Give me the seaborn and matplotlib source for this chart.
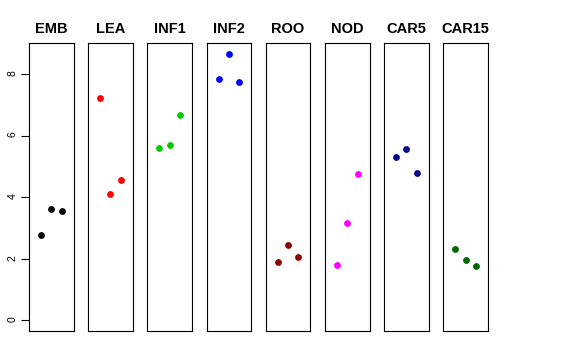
import numpy as np
import pandas as pd
import seaborn as sns
import matplotlib.pyplot as plt

tissues = ['EMB', 'LEA', 'INF1', 'INF2', 'ROO', 'NOD', 'CAR5', 'CAR15']
replicates = [1, 2, 3]
emb = [2.78, 3.61, 3.56]
lea = [7.21, 4.11, 4.55]
inf1 = [5.58, 5.68, 6.66]
inf2 = [7.84, 8.66, 7.74]
roo = [1.88, 2.45, 2.06]
nod = [1.81, 3.16, 4.74]
car5 = [5.29, 5.57, 4.78]
car15 = [2.31, 1.95, 1.76]
colors = ['black', 'red', '#00CD00', 'blue', '#8B0000', 'magenta', '#00008B', '#006400']
yticks = [0, 2, 4, 6, 8]

values = [emb, lea, inf1, inf2, roo, nod, car5, car15]
df = pd.DataFrame({
    'tissue': np.repeat(tissues, len(replicates)),
    'rep': replicates * len(tissues),
    'value': np.concatenate(values),
})

sns.set_theme(style="white")
plt.rcParams['font.family'] = ['Liberation Sans', 'DejaVu Sans']
plt.rcParams['ytick.labelcolor'] = 'black'

fig, axes = plt.subplots(1, len(tissues), sharey=True, figsize=(5.76, 3.6), dpi=100)
fig.subplots_adjust(left=0.0503, right=0.847, top=0.8806, bottom=0.0806, wspace=0.326)

ymax = df['value'].max()
for ax, t, c in zip(axes, tissues, colors):
    sub = df[df['tissue'] == t]
    sns.scatterplot(data=sub, x='rep', y='value', color=c, s=24, linewidth=0, ax=ax)
    ax.set_xlim(-0.16, 4.16)
    ax.set_ylim(-0.04 * ymax, ymax * 1.04)
    ax.set_title(t, fontsize=10.5, fontweight='bold', pad=7, color='black')
    ax.set_xlabel('')
    ax.set_ylabel('')
    ax.set_xticks([])
    for s in ax.spines.values():
        s.set_color('black')
        s.set_linewidth(0.8)
    ax.tick_params(left=False, labelleft=False)

ax0 = axes[0]
ax0.set_yticks(yticks)
ax0.tick_params(axis='y', left=True, labelleft=True, length=6, width=0.8,
                color='black', labelsize=7.5, pad=2, labelrotation=90)
# re-create the ticks so the settings above stick
ax0.spines['left'].set_position(('outward', 0))

fig.savefig('out.png', dpi=100)
